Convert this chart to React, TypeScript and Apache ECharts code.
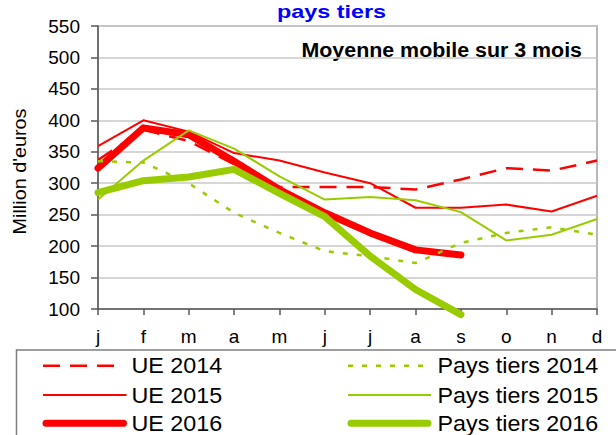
import React, { useEffect, useRef } from "react";
import * as echarts from "echarts";

const months = ["j", "f", "m", "a", "m", "j", "j", "a", "s", "o", "n", "d"];
const yMin = 100;
const yMax = 550;
const yStep = 50;

const ue2014 = [337, 385, 367, 330, 294, 294, 294, 290, 306, 324, 320, 336];
const ue2015 = [359, 400, 382, 348, 336, 317, 300, 261, 261, 266, 255, 280];
const ue2016 = [324, 388, 377, 335, 290, 253, 221, 194, 186, null, null, null];
const pt2014 = [335, 333, 300, 253, 221, 192, 184, 173, 205, 221, 230, 218];
const pt2015 = [274, 336, 384, 355, 311, 274, 278, 273, 254, 209, 218, 243];
const pt2016 = [285, 304, 310, 322, 284, 247, 184, 131, 91, null, null, null];

const seriesNames = ["UE 2014", "UE 2015", "UE 2016", "Pays tiers 2014", "Pays tiers 2015", "Pays tiers 2016"];
const seriesData = [ue2014, ue2015, ue2016, pt2014, pt2015, pt2016];

const chartTitle = "pays tiers";
const subTitle = "Moyenne mobile sur 3 mois";
const yAxisName = "Million d'euros";

const RED = "#ff0000";
const GREEN = "#99cc00";
const FONT = "'Liberation Sans', Arial, Helvetica, sans-serif";

const lineStyles = [
  { color: RED, width: 2.5, type: [17, 10] as any, cap: "butt" },
  { color: RED, width: 2, type: "solid", cap: "butt" },
  { color: RED, width: 7, type: "solid", cap: "round" },
  { color: GREEN, width: 2.5, type: [5, 9] as any, cap: "butt" },
  { color: GREEN, width: 2, type: "solid", cap: "butt" },
  { color: GREEN, width: 7, type: "solid", cap: "round" },
];

export default function App() {
  const ref = useRef<HTMLDivElement>(null);

  useEffect(() => {
    if (!ref.current) return;
    const chart = echarts.init(ref.current, null, { renderer: "svg" });

    const rowsY = [365.7, 395, 423.3];
    const legendEls: any[] = [];
    legendEls.push({
      type: "rect",
      shape: { x: 16.5, y: 350, width: 700, height: 200 },
      style: { fill: "#ffffff", stroke: "#7f7f7f", lineWidth: 1.5 },
      z: 1,
    });
    seriesNames.forEach((name, i) => {
      const col = i < 3 ? 0 : 1;
      const row = i % 3;
      const ls = lineStyles[i];
      const y = rowsY[row];
      let x1 = col === 0 ? 43 : 348;
      let x2 = col === 0 ? 126.5 : 431;
      if (ls.cap === "round") {
        x1 += 3;
        x2 -= 3;
      }
      if (i === 0) x2 = 117;
      legendEls.push({
        type: "line",
        shape: { x1, y1: y, x2, y2: y },
        style: {
          stroke: ls.color,
          lineWidth: ls.width,
          lineDash: Array.isArray(ls.type) ? ls.type : null,
          lineCap: ls.cap,
        },
        z: 2,
      });
      legendEls.push({
        type: "text",
        x: col === 0 ? 131.5 : 437.5,
        y,
        scaleX: 1.06,
        style: {
          text: name,
          font: `22px ${FONT}`,
          fill: "#000000",
          textAlign: "left",
          textVerticalAlign: "middle",
        },
        z: 2,
      });
    });

    const option: any = {
      animation: false,
      backgroundColor: "#ffffff",
      grid: {
        left: 98,
        right: 19,
        top: 26,
        bottom: 126,
        containLabel: false,
        show: true,
        borderColor: "#b8b8b8",
        borderWidth: 2,
        backgroundColor: "transparent",
      },
      xAxis: {
        type: "category",
        data: months,
        boundaryGap: false,
        axisLine: { show: true, lineStyle: { color: "#5a5a5a", width: 1.5 } },
        axisTick: { show: true, inside: false, length: 6, lineStyle: { color: "#5a5a5a", width: 1.5 } },
        axisLabel: { color: "#000000", fontSize: 19, fontFamily: FONT, margin: 18, interval: 0 },
        splitLine: { show: false },
      },
      yAxis: {
        type: "value",
        min: yMin,
        max: yMax,
        interval: yStep,
        axisLine: { show: true, lineStyle: { color: "#5a5a5a", width: 1.5 } },
        axisTick: { show: true, inside: false, length: 7, lineStyle: { color: "#5a5a5a", width: 1.5 } },
        axisLabel: { color: "#000000", fontSize: 19, fontFamily: FONT, margin: 18 },
        splitLine: { show: true, lineStyle: { color: "#c8c8c8", width: 1.5 } },
      },
      series: seriesNames.map((name, i) => ({
        name,
        type: "line",
        data: seriesData[i],
        symbol: "none",
        clip: false,
        connectNulls: false,
        lineStyle: {
          color: lineStyles[i].color,
          width: lineStyles[i].width,
          type: lineStyles[i].type,
          cap: lineStyles[i].cap,
          join: "round",
        },
        z: 3 + i,
      })),
      graphic: [
        {
          type: "text",
          x: 331.5,
          y: 12,
          scaleX: 1.3,
          style: {
            text: chartTitle,
            font: `bold 18px ${FONT}`,
            fill: "#0000ff",
            textAlign: "center",
            textVerticalAlign: "middle",
          },
        },
        {
          type: "text",
          x: 582,
          y: 50,
          scaleX: 1.07,
          style: {
            text: subTitle,
            font: `bold 20px ${FONT}`,
            fill: "#000000",
            textAlign: "right",
            textVerticalAlign: "middle",
          },
        },
        {
          type: "text",
          x: 20,
          y: 171.5,
          rotation: Math.PI / 2,
          scaleX: 1.1,
          style: {
            text: yAxisName,
            font: `18px ${FONT}`,
            fill: "#000000",
            textAlign: "center",
            textVerticalAlign: "middle",
          },
        },
        ...legendEls,
      ],
    };

    chart.setOption(option);
    return () => chart.dispose();
  }, []);

  return (
    <div
      ref={ref}
      style={{ position: "fixed", left: 0, top: 0, width: 616, height: 435, background: "#ffffff" }}
    />
  );
}
